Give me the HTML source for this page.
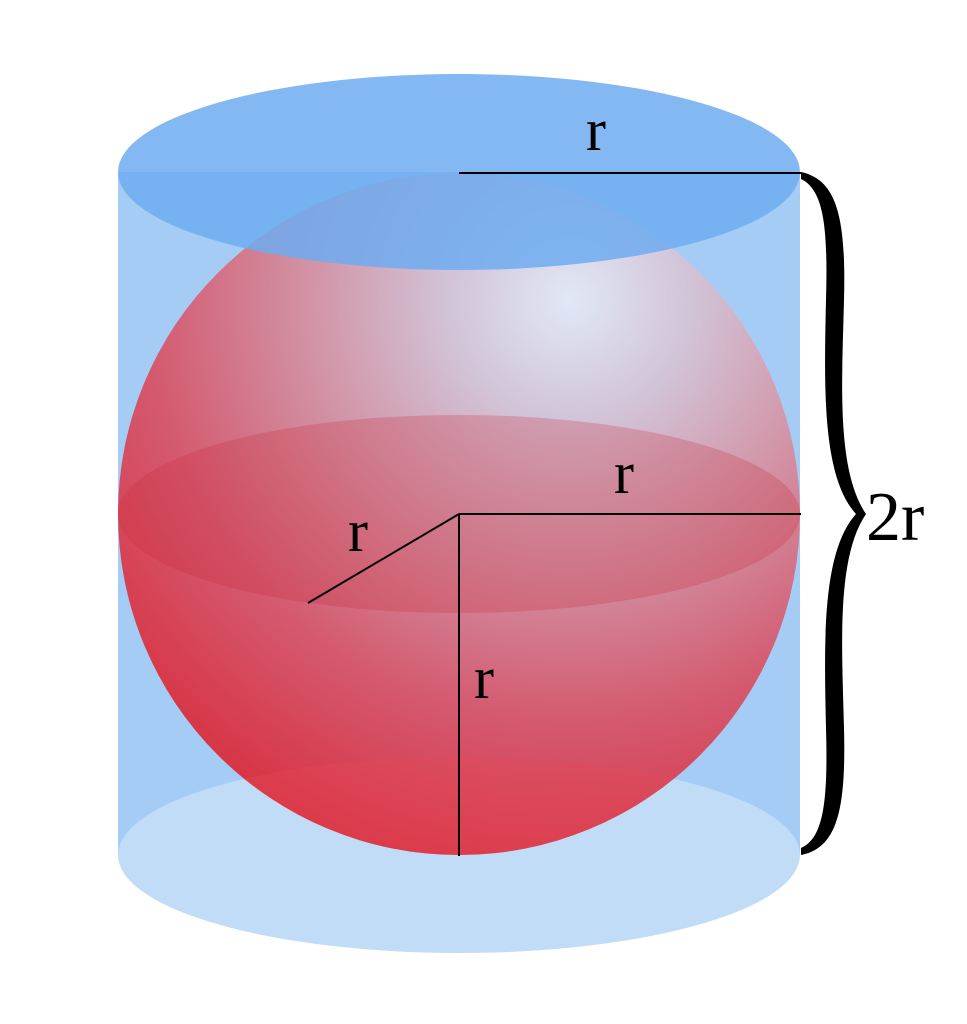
<!DOCTYPE html>
<html><head><meta charset="utf-8"><style>html,body{margin:0;padding:0;background:#fff;overflow:hidden}svg{display:block}</style></head>
<body>
<svg width="967" height="1024" viewBox="0 0 967 1024" xmlns="http://www.w3.org/2000/svg">
<defs>
<radialGradient id="sph" cx="570" cy="300" r="600" gradientUnits="userSpaceOnUse">
<stop offset="0" stop-color="#e0e8f6"/>
<stop offset="0.2" stop-color="#d2c4d8"/>
<stop offset="0.45" stop-color="#d290a2"/>
<stop offset="0.7" stop-color="#d45a70"/>
<stop offset="1" stop-color="#d8303e"/>
</radialGradient>
<clipPath id="cs"><circle cx="459" cy="514" r="341"/></clipPath>
</defs>
<rect x="118" y="172" width="682" height="683" fill="#a4ccf4"/>
<ellipse cx="459" cy="855" rx="341" ry="98" fill="#c1dcf7"/>
<circle cx="459" cy="514" r="341" fill="url(#sph)"/>
<ellipse cx="459" cy="855" rx="341" ry="98" fill="#e84858" opacity="0.3" clip-path="url(#cs)"/>
<ellipse cx="459" cy="514" rx="341" ry="99" fill="#c82838" opacity="0.25"/>
<ellipse cx="459" cy="172" rx="341" ry="98" fill="#6eacf0" opacity="0.85"/>
<g stroke="#000" stroke-width="2" fill="none">
<line x1="459" y1="173" x2="801" y2="173"/>
<line x1="459" y1="514" x2="801" y2="514"/>
<line x1="459" y1="514" x2="459" y2="856"/>
<line x1="459" y1="514" x2="308" y2="603"/>
</g>
<path d="M801,172 C838,180 846,220 844,300 C842,380 836,470 866,514 C836,558 842,648 844,728 C846,808 838,848 801,855 L801,848 C824,838 828,800 826,728 C824,640 822,552 856,514 C822,476 824,388 826,300 C828,228 824,190 801,179Z" fill="#000"/>
<g font-family="Liberation Serif, serif" fill="#000">
<text x="596" y="150" font-size="60" text-anchor="middle">r</text>
<text x="624" y="493" font-size="60" text-anchor="middle">r</text>
<text x="358" y="551" font-size="60" text-anchor="middle">r</text>
<text x="484" y="698" font-size="60" text-anchor="middle">r</text>
<text x="866" y="540" font-size="70">2r</text>
</g>
</svg>
</body></html>
